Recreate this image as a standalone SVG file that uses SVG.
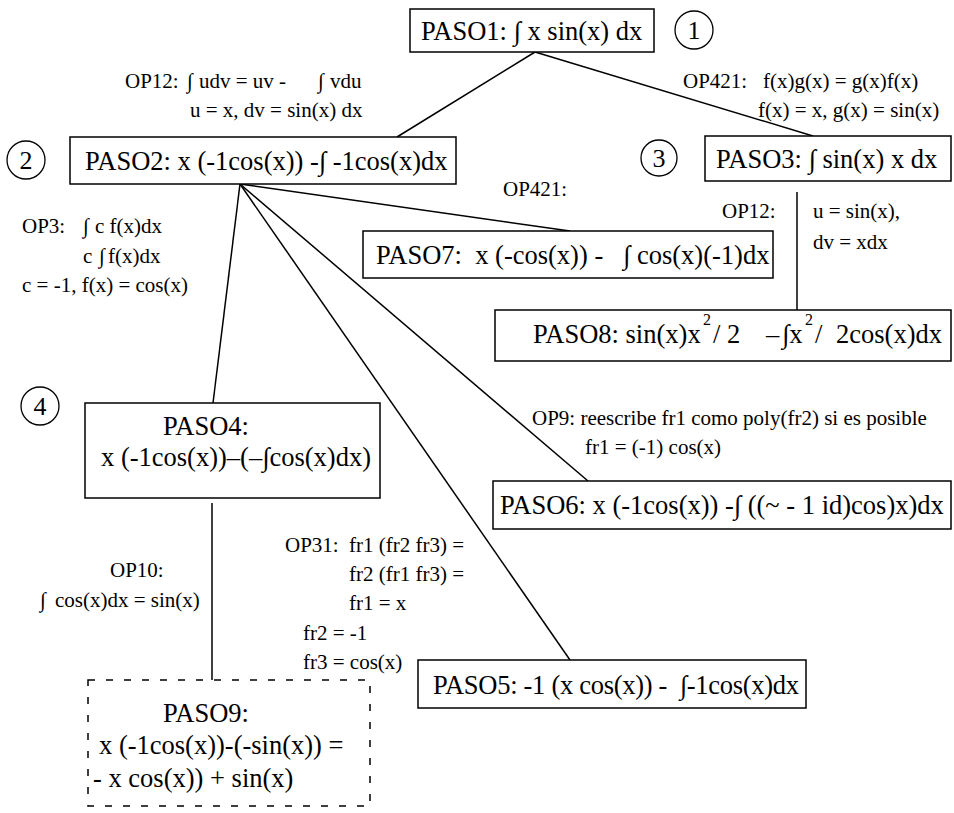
<svg xmlns="http://www.w3.org/2000/svg" width="954" height="813" viewBox="0 0 954 813">
<style>
text { font-family: "Liberation Serif", "Times New Roman", serif; fill: #000; }
.p { font-size: 26.5px; }
.o { font-size: 21px; }
.sup { font-size: 16px; }
.n { font-size: 26px; text-anchor: middle; }
.box { fill: #fff; stroke: #000; stroke-width: 1.5; }
.dash { fill: #fff; stroke: #000; stroke-width: 1.5; stroke-dasharray: 7 11; }
.ring { fill: none; stroke: #000; stroke-width: 1.3; }
.edge { stroke: #000; stroke-width: 1.5; fill: none; }
</style>
<rect width="954" height="813" fill="#fff"/>
<g id="connectors">
<path class="edge" d="M535 52 L397 137"/>
<path class="edge" d="M535 52 L813 136"/>
<path class="edge" d="M240 184 L213 403"/>
<path class="edge" d="M240 184 L570 231"/>
<path class="edge" d="M240 184 L588 481"/>
<path class="edge" d="M240 184 L570 660"/>
<path class="edge" d="M797 192 L797 310"/>
<path class="edge" d="M212 503 L212 680"/>
</g>
<g id="labels" xml:space="preserve">
<text class="o" y="88"><tspan x="125">OP12:</tspan><tspan x="187">∫</tspan><tspan x="199">udv = uv -</tspan><tspan x="318">∫</tspan><tspan x="330">vdu</tspan></text>
<text class="o" x="190" y="117">u = x, dv = sin(x) dx</text>
<text class="o" y="88"><tspan x="683">OP421:</tspan><tspan x="763">f(x)g(x) = g(x)f(x)</tspan></text>
<text class="o" x="758" y="117">f(x) = x, g(x) = sin(x)</text>
<text class="o" x="503" y="196">OP421:</text>
<text class="o" x="722" y="218">OP12:</text>
<text class="o" x="813" y="218">u = sin(x),</text>
<text class="o" x="813" y="249">dv = xdx</text>
<text class="o" y="233"><tspan x="22">OP3:</tspan><tspan x="83">∫</tspan><tspan x="95">c f(x)dx</tspan></text>
<text class="o" y="263"><tspan x="83">c</tspan><tspan x="99">∫</tspan><tspan x="108">f(x)dx</tspan></text>
<text class="o" x="22" y="292">c = -1, f(x) = cos(x)</text>
<text class="o" x="532" y="425">OP9: reescribe fr1 como poly(fr2) si es posible</text>
<text class="o" x="585" y="454">fr1 = (-1) cos(x)</text>
<text class="o" y="552"><tspan x="285">OP31:</tspan><tspan x="349">fr1 (fr2 fr3) =</tspan></text>
<text class="o" x="349" y="581">fr2 (fr1 fr3) =</text>
<text class="o" x="349" y="610">fr1 = x</text>
<text class="o" x="303" y="640">fr2 = -1</text>
<text class="o" x="303" y="669">fr3 = cos(x)</text>
<text class="o" x="110" y="577">OP10:</text>
<text class="o" y="607"><tspan x="40">∫</tspan><tspan x="55">cos(x)dx = sin(x)</tspan></text>
</g>
<g id="n1">
<rect class="box" x="410" y="9" width="244" height="43"/>
<text class="p" x="421" y="40">PASO1: ∫ x sin(x) dx</text>
<circle class="ring" cx="694" cy="30" r="19"/>
<text class="n" x="694" y="39">1</text>
</g>
<g id="n2">
<circle class="ring" cx="26" cy="160" r="19"/>
<text class="n" x="26" y="169">2</text>
<rect class="box" x="70" y="137" width="386" height="47"/>
<text class="p" x="85" y="170">PASO2: x (-1cos(x)) -∫ -1cos(x)dx</text>
</g>
<g id="n3">
<circle class="ring" cx="659" cy="158" r="18"/>
<text class="n" x="659" y="167">3</text>
<rect class="box" x="705" y="136" width="246" height="45"/>
<text class="p" x="716" y="168">PASO3: ∫ sin(x) x dx</text>
</g>
<g id="n7">
<rect class="box" x="363" y="231" width="410" height="47"/>
<text class="p" x="376" y="264" xml:space="preserve">PASO7:  x (-cos(x)) -   ∫ cos(x)(-1)dx</text>
</g>
<g id="n8">
<rect class="box" x="495" y="310" width="456" height="51"/>
<text class="p" y="343"><tspan x="533">PASO8: sin(x)x</tspan><tspan class="sup" x="703" y="325">2</tspan><tspan x="713" y="343">/ 2</tspan><tspan x="766">–</tspan><tspan x="782">∫x</tspan><tspan class="sup" x="805" y="325">2</tspan><tspan x="815" y="343">/</tspan><tspan x="836">2cos(x)dx</tspan></text>
</g>
<g id="n4">
<circle class="ring" cx="40" cy="406" r="19"/>
<text class="n" x="40" y="415">4</text>
<rect class="box" x="85" y="403" width="295" height="95"/>
<text class="p" x="163" y="435">PASO4:</text>
<text class="p" x="101" y="466">x (-1cos(x))–(–∫cos(x)dx)</text>
</g>
<g id="n6">
<rect class="box" x="493" y="481" width="458" height="48"/>
<text class="p" x="500" y="514">PASO6: x (-1cos(x)) -∫ ((~ - 1 id)cos)x)dx</text>
</g>
<g id="n5">
<rect class="box" x="418" y="660" width="388" height="48"/>
<text class="p" x="433" y="694" textLength="366" lengthAdjust="spacing" xml:space="preserve">PASO5: -1 (x cos(x)) -  ∫-1cos(x)dx</text>
</g>
<g id="n9">
<rect class="dash" x="88" y="680" width="282" height="126"/>
<text class="p" x="163" y="722">PASO9:</text>
<text class="p" x="99" y="754">x (-1cos(x))-(-sin(x)) =</text>
<text class="p" x="93" y="787">- x cos(x)) + sin(x)</text>
</g>
</svg>
